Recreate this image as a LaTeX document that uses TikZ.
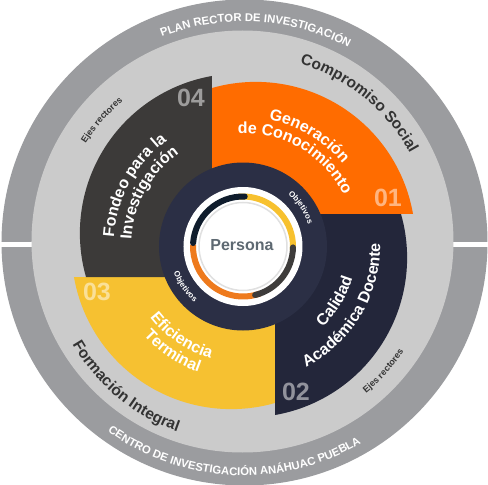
\documentclass[tikz,border=0pt]{standalone}
\usepackage{fontspec}
\setmainfont{Liberation Sans}
\usetikzlibrary{positioning,decorations.text}

\definecolor{ringdark}{HTML}{9B9C9F}
\definecolor{ringlight}{HTML}{CBCBCB}
\definecolor{axisorange}{HTML}{FF6C00}
\definecolor{axisnavy}{HTML}{23263A}
\definecolor{axisyellow}{HTML}{F6C131}
\definecolor{axischarcoal}{HTML}{3C3A39}
\definecolor{hubnavy}{HTML}{2B2F45}
\definecolor{labeldark}{HTML}{333333}
\definecolor{personagray}{HTML}{5E6972}
\definecolor{barnavy}{HTML}{0F1C2C}
\definecolor{barorange}{HTML}{EE7A1D}
\definecolor{baryellow}{HTML}{F7C12F}
\definecolor{bargray}{HTML}{3E3C3B}

\newcommand{\axisfont}{\color{white}\bfseries\fontsize{16}{16}\selectfont}
\newcommand{\ringfont}{\color{white}\bfseries\fontsize{11.3}{12}\selectfont}
\newcommand{\valuefont}{\color{labeldark}\bfseries\fontsize{15.5}{16}\selectfont}
\newcommand{\ejesfont}{\color{labeldark}\bfseries\fontsize{9}{10}\selectfont}
\newcommand{\objfont}{\color{white}\bfseries\fontsize{8}{9}\selectfont}

\begin{document}
\begin{tikzpicture}[
    x=1pt, y=1pt,
    curved/.style={decorate, decoration={text along path, text align=center}},
    number/.style={font=\bfseries\fontsize{25}{25}\selectfont, text=white, text opacity=0.5, inner sep=0pt},
    bar/.style={line width=6pt},
    roundbar/.style={bar, line cap=round}
]
\useasboundingbox (-243.5,-239.5) rectangle (244.5,245.5);

% Outer rings
\fill[ringdark] (1,3) circle[radius=243];
\fill[white] (-243.5,-1.7) rectangle (244.5,3.3);
\fill[ringlight] (-1,4) circle[radius=211];

% Axis sectors (pinwheel)
\fill[axisorange] (-31.5,31.5) -- (-31.5,157.5) arc[start angle=105.93, end angle=9.92, radius=159.6] -- cycle;
\fill[axisnavy, rotate=-90] (-31.5,31.5) -- (-31.5,157.5) arc[start angle=105.93, end angle=9.92, radius=159.6] -- cycle;
\fill[axisyellow, rotate=-180] (-31.5,31.5) -- (-31.5,157.5) arc[start angle=105.93, end angle=9.92, radius=159.6] -- cycle;
\fill[axischarcoal, rotate=90] (-31.5,31.5) -- (-31.5,157.5) arc[start angle=105.93, end angle=9.92, radius=159.6] -- cycle;

% Numbers
\node[number] (n01) at (144.5,47.5) {01};
\node[number] (n02) at (52.5,-146.5) {02};
\node[number] (n03) at (-146.5,-46.5) {03};
\node[number] (n04) at (-52.5,147.5) {04};

% Hub
\coordinate (hub) at (-0.5,-1);
\fill[hubnavy] (hub) circle[radius=84];
\fill[white] (hub) circle[radius=59.5];
\draw[bar, baryellow] (hub) ++(95:50) arc[start angle=95, end angle=-5, radius=50];
\draw[bar, barorange] (hub) ++(-70:50) arc[start angle=-70, end angle=-182, radius=50];
\draw[roundbar, barnavy] (hub) ++(176:50) arc[start angle=176, end angle=88, radius=50];
\draw[roundbar, bargray] (hub) ++(-1:50) arc[start angle=-1, end angle=-76, radius=50];
\draw[black!12, line width=1.5pt, fill=white] (hub) circle[radius=44];
\node[font=\bfseries\fontsize{16}{16}\selectfont, text=personagray] (persona) at (-1.5,0.5) {Persona};

% Outer ring labels
\path[curved, decoration={text={|\ringfont|PLAN RECTOR DE INVESTIGACIÓN}}] (136.7:224) arc[start angle=136.7, end angle=36.7, radius=224];
\path[curved, decoration={text={|\ringfont|CENTRO DE INVESTIGACIÓN ANÁHUAC PUEBLA}}] (207.3:230) arc[start angle=207.3, end angle=327.3, radius=230];

% Values
\path[curved, decoration={text={|\valuefont|Compromiso Social}}] (100.9:190.5) arc[start angle=100.9, end angle=0.9, radius=190.5];
\path[curved, decoration={text={|\valuefont|Formación Integral}}] (180.2:197.5) arc[start angle=180.2, end angle=280.2, radius=197.5];
\path[curved, decoration={text={|\ejesfont|Ejes rectores}}] (168.5:188) arc[start angle=168.5, end angle=108.5, radius=188];
\path[curved, decoration={text={|\ejesfont|Ejes rectores}}] (-71.9:192) arc[start angle=-71.9, end angle=-11.9, radius=192];

% Objetivos
\path[curved, decoration={text={|\objfont|Objetivos}}] (63.6:68) arc[start angle=63.6, end angle=3.6, radius=68];
\path[curved, decoration={text={|\objfont|Objetivos}}] (185.2:75) arc[start angle=185.2, end angle=245.2, radius=75];

% Axis labels
\path[curved, decoration={text={|\axisfont|Generación}}] (109:128.3) arc[start angle=109, end angle=9, radius=128.3];
\path[curved, decoration={text={|\axisfont|de Conocimiento}}] (109.8:112.3) arc[start angle=109.8, end angle=9.8, radius=112.3];
\path[curved, decoration={text={|\axisfont|Fondeo para la}}] (201.2:129.8) arc[start angle=201.2, end angle=101.2, radius=129.8];
\path[curved, decoration={text={|\axisfont|Investigación}}] (201:112.3) arc[start angle=201, end angle=101, radius=112.3];
\path[curved, decoration={text={|\axisfont|Calidad}}] (-81.2:113.7) arc[start angle=-81.2, end angle=18.8, radius=113.7];
\path[curved, decoration={text={|\axisfont|Académica Docente}}] (-80.9:136.7) arc[start angle=-80.9, end angle=19.1, radius=136.7];
\path[curved, decoration={text={|\axisfont|Eficiencia}}] (185.6:117.7) arc[start angle=185.6, end angle=285.6, radius=117.7];
\path[curved, decoration={text={|\axisfont|Terminal}}] (186.3:134.7) arc[start angle=186.3, end angle=286.3, radius=134.7];

\end{tikzpicture}
\end{document}
